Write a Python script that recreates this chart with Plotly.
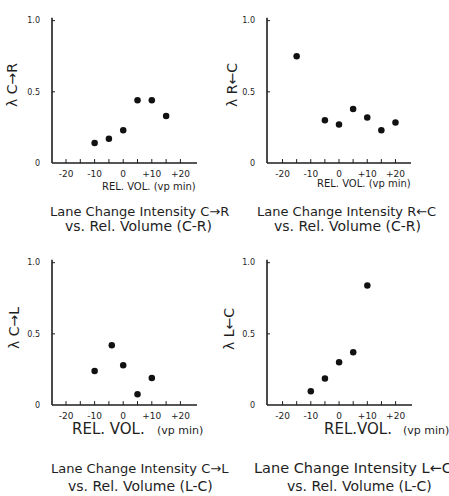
import plotly.graph_objects as go

# Relative volume (vp min) and lane change intensity for each panel
rel_vol_cr = [-10, -5, 0, 5, 10, 15]
lam_c_to_r = [0.14, 0.17, 0.23, 0.44, 0.44, 0.33]

rel_vol_rc = [-15, -5, 0, 5, 10, 15, 20]
lam_r_to_c = [0.75, 0.30, 0.27, 0.38, 0.32, 0.23, 0.285]

rel_vol_cl = [-10, -4, 0, 5, 10]
lam_c_to_l = [0.24, 0.42, 0.28, 0.076, 0.19]

rel_vol_lc = [-10, -5, 0, 5, 10]
lam_l_to_c = [0.097, 0.187, 0.30, 0.37, 0.84]

# ticks every 5 vp min, labelled every 10
x_tick_vals = [-20, -15, -10, -5, 0, 5, 10, 15, 20]
x_tick_text = ["-20", "", "-10", "", "0", "", "+10", "", "+20"]
y_tick_vals = [0, 0.5, 1.0]
y_tick_text = ["0", "0.5", "1.0"]

W, H = 449, 496
FONT = "DejaVu Sans"
INK = "#1e1e1e"

# pixel frame of each panel: x span, y span (bottom, top) and x range
panels = [
    dict(x=rel_vol_cr, y=lam_c_to_r, px=(52, 197), py=(164, 17), xr=(-24.9, 25.8)),
    dict(x=rel_vol_rc, y=lam_r_to_c, px=(267, 411), py=(164, 17), xr=(-25.5, 25.5)),
    dict(x=rel_vol_cl, y=lam_c_to_l, px=(52, 197), py=(409, 262), xr=(-24.9, 25.8)),
    dict(x=rel_vol_lc, y=lam_l_to_c, px=(267, 412), py=(409, 262), xr=(-25.5, 25.8)),
]

fig = go.Figure()
layout = {}
shapes = []
for i, p in enumerate(panels, start=1):
    sx = "" if i == 1 else str(i)
    fig.add_trace(go.Scatter(
        x=p["x"], y=p["y"], mode="markers",
        marker=dict(color="#111111", size=6.5),
        xaxis="x" + sx, yaxis="y" + sx, showlegend=False,
    ))
    layout["xaxis" + sx] = dict(
        domain=[p["px"][0] / W, p["px"][1] / W],
        range=list(p["xr"]), anchor="y" + sx,
        showline=False, showgrid=False, zeroline=False,
        tickvals=x_tick_vals, ticktext=x_tick_text, ticks="",
        tickfont=dict(family=FONT, size=9, color=INK),
        ticklabelstandoff=4,
    )
    layout["yaxis" + sx] = dict(
        domain=[1 - p["py"][0] / H, 1 - p["py"][1] / H],
        range=[0, 1.02], anchor="x" + sx,
        showline=False, showgrid=False, zeroline=False,
        tickvals=y_tick_vals, ticktext=y_tick_text, ticks="",
        tickfont=dict(family=FONT, size=8, color=INK),
        ticklabelstandoff=11,
    )
    # L-shaped frame: bottom and left edges of the panel, with inward ticks
    xd, yd = "x" + sx + " domain", "y" + sx + " domain"
    frame = dict(color=INK, width=1.6)
    tick = dict(color=INK, width=1)
    shapes.append(dict(type="line", xref=xd, yref=yd, x0=0, x1=1, y0=0, y1=0,
                       line=frame, layer="above"))
    shapes.append(dict(type="line", xref=xd, yref=yd, x0=0, x1=0, y0=0, y1=1,
                       line=frame, layer="above"))
    x_len = 4 / (p["py"][0] - p["py"][1])
    y_len = 3 / (p["px"][1] - p["px"][0])
    for v in x_tick_vals:
        shapes.append(dict(type="line", xref="x" + sx, yref=yd, x0=v, x1=v,
                           y0=0, y1=x_len, line=tick, layer="above"))
    for v in y_tick_vals[1:]:
        shapes.append(dict(type="line", xref=xd, yref="y" + sx, x0=0, x1=y_len,
                           y0=v, y1=v, line=tick, layer="above"))

annotations = []


def note(text, x, y, size, angle=0, xanchor="center"):
    annotations.append(dict(
        text=text, x=x / W, y=1 - y / H, xref="paper", yref="paper",
        showarrow=False, textangle=angle, xanchor=xanchor, yanchor="middle",
        font=dict(family=FONT, size=size, color=INK),
    ))


# y-axis titles
note("λ C→R", 12, 85, 14, -90)
note("λ R←C", 232, 85, 14, -90)
note("λ C→L", 14, 331, 14, -90)
note("λ L←C", 229, 332, 14, -90)

# x-axis titles
note("REL. VOL. (vp min)", 149, 188, 10)
note("REL. VOL. (vp min)", 364, 185, 10)
note("REL. VOL.", 70, 433, 15, xanchor="left")
note("(vp min)", 155, 435, 11, xanchor="left")
note("REL.VOL.", 322, 433, 15, xanchor="left")
note("(vp min)", 401, 435, 11, xanchor="left")

# panel captions
note("Lane Change Intensity C→R", 139, 213, 13)
note("vs. Rel. Volume (C-R)", 138, 228, 14)
note("Lane Change Intensity R←C", 346, 213, 13)
note("vs. Rel. Volume (C-R)", 347, 228, 14)
note("Lane Change Intensity C→L", 140, 473, 13)
note("vs. Rel. Volume (L-C)", 140, 491, 14)
note("Lane Change Intensity L←C", 252, 473, 14.5, xanchor="left")
note("vs. Rel. Volume (L-C)", 359, 491, 14)

fig.update_layout(
    width=W, height=H,
    margin=dict(l=0, r=0, t=0, b=0),
    paper_bgcolor="white", plot_bgcolor="white",
    annotations=annotations, shapes=shapes,
    **layout,
)

fig.write_html("out.html")
